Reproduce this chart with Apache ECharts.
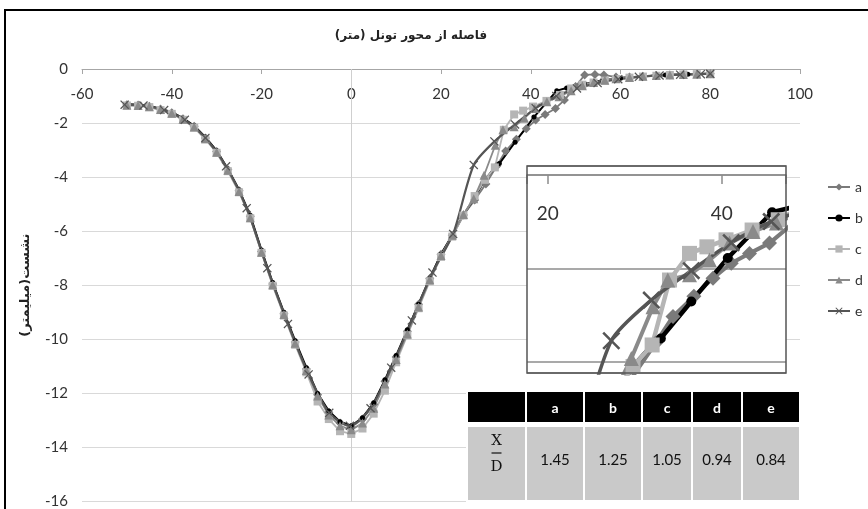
<!DOCTYPE html>
<html><head><meta charset="utf-8">
<script src="https://cdn.jsdelivr.net/npm/echarts@6/dist/echarts.min.js"></script>
<style>html,body{margin:0;padding:0;background:#fff}#c{width:868px;height:509px}</style>
</head><body><div id="c"></div>
<script>
// ---------- data ----------
const seriesNames = ['a', 'b', 'c', 'd', 'e'];
const chartTitle = 'فاصله از محور تونل (متر)\u200F';
const yAxisTitle = 'نشست(میلیمتر)\u200F';

const xA = [-50,-47.5,-45,-42.5,-40,-37.5,-35,-32.5,-30,-27.5,-25,-22.5,-20,-17.5,-15,-12.5,-10,-7.5,-5,-2.5,0,2.5,5,7.5,10,12.5,15,17.5,20,22.5,25,
  27.5,30,32.4,34.4,36.8,39,41.1,43.2,45.5,47.5,50,52,54.3,56.3,59,62,65,68,71,74,77,80];
const yA = [-1.32,-1.33,-1.38,-1.48,-1.62,-1.84,-2.12,-2.55,-3.05,-3.72,-4.5,-5.45,-6.75,-7.95,-9.05,-10.1,-11.1,-12.05,-12.7,-13.1,-13.25,-12.95,-12.4,-11.55,-10.65,-9.7,-8.7,-7.75,-6.85,-6.15,-5.4,
  -4.85,-4.25,-3.6,-3.03,-2.6,-2.21,-1.89,-1.68,-1.46,-1.15,-0.65,-0.22,-0.2,-0.22,-0.3,-0.3,-0.27,-0.24,-0.22,-0.2,-0.19,-0.18];

const xB = [-50,-47.5,-45,-42.5,-40,-37.5,-35,-32.5,-30,-27.5,-25,-22.5,-20,-17.5,-15,-12.5,-10,-7.5,-5,-2.5,0,2.5,5,7.5,10,12.5,15,17.5,20,22.5,25,
  27.5,29.8,32,33,36.5,40.7,45.8,48,52,56,60,65,70,75,80];
const yB = [-1.3,-1.32,-1.37,-1.47,-1.6,-1.82,-2.1,-2.52,-3.02,-3.7,-4.47,-5.42,-6.7,-7.9,-9.0,-10.05,-11.05,-12.0,-12.65,-13.05,-13.2,-12.9,-12.35,-11.5,-10.6,-9.65,-8.7,-7.75,-6.85,-6.15,-5.4,
  -4.75,-4.1,-3.64,-3.5,-2.71,-1.78,-0.8,-0.7,-0.55,-0.42,-0.34,-0.27,-0.22,-0.19,-0.17];

const xC = [-50,-47.5,-45,-42.5,-40,-37.5,-35,-32.5,-30,-27.5,-25,-22.5,-20,-17.5,-15,-12.5,-10,-7.5,-5,-2.5,0,2.5,5,7.5,10,12.5,15,17.5,20,22.5,25,
  27.5,29.8,32,34,36.3,38.3,40.5,43.5,46.5,49,51.5,54,56.5,59,62,65,68,71,74,77,80];
const yC = [-1.35,-1.36,-1.41,-1.52,-1.66,-1.88,-2.17,-2.6,-3.1,-3.78,-4.56,-5.52,-6.8,-8.02,-9.12,-10.2,-11.22,-12.3,-12.95,-13.4,-13.5,-13.3,-12.75,-11.9,-10.85,-9.85,-8.85,-7.85,-6.95,-6.2,-5.42,
  -4.7,-4.1,-3.64,-2.25,-1.68,-1.54,-1.39,-1.18,-0.96,-0.72,-0.58,-0.5,-0.43,-0.37,-0.32,-0.28,-0.25,-0.22,-0.2,-0.19,-0.18];

const xD = [-50,-47.5,-45,-42.5,-40,-37.5,-35,-32.5,-30,-27.5,-25,-22.5,-20,-17.5,-15,-12.5,-10,-7.5,-5,-2.5,0,2.5,5,7.5,10,12.5,15,17.5,20,22.5,25,
  27.3,29.6,32.1,33.8,36.3,38.6,40.9,43.6,46.3,49,51.5,54,56.5,59,62,65,68,71,74,77,80];
const yD = [-1.34,-1.35,-1.4,-1.5,-1.64,-1.86,-2.15,-2.58,-3.08,-3.75,-4.53,-5.5,-6.78,-7.98,-9.08,-10.15,-11.15,-12.1,-12.8,-13.2,-13.35,-13.1,-12.55,-11.65,-10.75,-9.8,-8.8,-7.8,-6.9,-6.15,-5.38,
  -4.8,-3.93,-2.82,-2.25,-2.14,-1.82,-1.46,-1.21,-1.03,-0.8,-0.62,-0.5,-0.42,-0.36,-0.31,-0.27,-0.24,-0.22,-0.2,-0.19,-0.18];

const xE = [-50.5,-46.3,-41.7,-37.1,-32.5,-27.9,-23.3,-18.7,-14.1,-9.5,-4.9,-0.3,4.3,8.9,13.5,18.1,22.7,27.3,31.9,36.5,41.1,45.7,50.3,54.9,59.5,64.1,68.7,73.3,77.9,80];
const yE = [-1.32,-1.35,-1.52,-1.88,-2.55,-3.6,-5.15,-7.37,-9.43,-11.3,-12.72,-13.2,-12.55,-11.05,-9.3,-7.53,-6.1,-3.55,-2.68,-2.05,-1.45,-1.0,-0.72,-0.52,-0.38,-0.29,-0.24,-0.21,-0.19,-0.18];

const tableHeader = ['a', 'b', 'c', 'd', 'e'];
const tableValues = ['1.45', '1.25', '1.05', '0.94', '0.84'];
const ratioTop = 'X', ratioBottom = 'D';

// ---------- styles ----------
const xs = [xA, xB, xC, xD, xE];
const ys = [yA, yB, yC, yD, yE];
const colors = ['#7a7a7a', '#000000', '#b5b5b5', '#8a8a8a', '#555555'];
const crossPath = 'path://M0,1L1,0L5,4L9,0L10,1L6,5L10,9L9,10L5,6L1,10L0,9L4,5Z';
const symbols = ['diamond', 'circle', 'rect', 'triangle', crossPath];
const mainSym = [9, 5, 8, 9, 9];
const insetSym = [15, 10, 15, 15, 18];
const mainLW = [1.8, 2, 1.8, 1.8, 2.2];
const insetLW = [4, 4.5, 4.5, 4, 3.5];
const FONT = 'Lato, "Open Sans", sans-serif';

const series = [];
seriesNames.forEach((n, i) => {
  const data = xs[i].map((x, k) => [x, ys[i][k]]);
  const s = {
    name: n, type: 'line', xAxisIndex: 0, yAxisIndex: 0, data,
    symbol: symbols[i], symbolSize: mainSym[i], showSymbol: true,
    smooth: i === 4 ? 0.25 : false,
    lineStyle: { color: colors[i], width: mainLW[i] },
    itemStyle: { color: colors[i] },
    z: 2, animation: false, emphasis: { disabled: true }
  };
  if (i === 0) {
    s.markLine = {
      silent: true, symbol: 'none', z: 1, animation: false,
      label: { show: false },
      lineStyle: { color: '#cfcfcf', width: 1, type: 'solid' },
      data: [{ xAxis: 0 }]
    };
  }
  series.push(s);
});
seriesNames.forEach((n, i) => {
  const data = xs[i].map((x, k) => [x, ys[i][k]]);
  series.push({
    name: n, type: 'line', xAxisIndex: 1, yAxisIndex: 1, data,
    symbol: symbols[i], symbolSize: insetSym[i], showSymbol: true,
    smooth: i === 4 ? 0.25 : false, clip: true,
    lineStyle: { color: colors[i], width: insetLW[i] },
    itemStyle: { color: colors[i] },
    z: 4, animation: false, emphasis: { disabled: true }
  });
});

// ---------- table graphic ----------
const cols = [[468, 57], [527, 56], [585, 56], [643, 48], [693, 48], [743, 56]];
const hdrY = 392, hdrH = 30, bodyY = 427, bodyH = 73;
const graphics = [
  { type: 'rect', shape: { x: 5, y: 10, width: 900, height: 600 }, style: { fill: 'none', stroke: '#000', lineWidth: 2 }, z: 100, silent: true },
  { type: 'rect', shape: { x: 527, y: 166, width: 259, height: 207 }, style: { fill: '#fff' }, z: 1, silent: true },
  { type: 'rect', shape: { x: 527, y: 166, width: 259, height: 207 }, style: { fill: 'none', stroke: '#555', lineWidth: 1.5 }, z: 8, silent: true },
  { type: 'text', x: 411, y: 36, style: { text: chartTitle, align: 'center', verticalAlign: 'middle', fontSize: 12, fontWeight: 'bold', fontFamily: 'DejaVu Sans', fill: '#222' }, z: 10 },
  { type: 'rect', shape: { x: 466, y: 390, width: 335, height: 112 }, style: { fill: '#fff' }, z: 10, silent: true }
];
cols.forEach(([cx, cw], i) => {
  graphics.push({ type: 'rect', shape: { x: cx, y: hdrY, width: cw, height: hdrH }, style: { fill: '#000' }, z: 11 });
  graphics.push({ type: 'rect', shape: { x: cx, y: bodyY, width: cw, height: bodyH }, style: { fill: '#c9c9c9' }, z: 11 });
  if (i > 0) {
    graphics.push({ type: 'text', x: cx + cw / 2, y: hdrY + hdrH / 2 + 1, style: { text: tableHeader[i - 1], align: 'center', verticalAlign: 'middle', fontSize: 14, fontWeight: 'bold', fontFamily: FONT, fill: '#fff' }, z: 12 });
    graphics.push({ type: 'text', x: cx + cw / 2, y: bodyY + 33, style: { text: tableValues[i - 1], align: 'center', verticalAlign: 'middle', fontSize: 15, fontFamily: FONT, fill: '#111' }, z: 12 });
  } else {
    const mx = cx + cw / 2;
    graphics.push({ type: 'text', x: mx, y: 441, style: { text: ratioTop, align: 'center', verticalAlign: 'middle', fontSize: 15, fontFamily: '"DejaVu Serif", serif', fill: '#111' }, z: 12 });
    graphics.push({ type: 'line', shape: { x1: mx - 5, y1: 453, x2: mx + 5, y2: 453 }, style: { stroke: '#111', lineWidth: 1.2 }, z: 12 });
    graphics.push({ type: 'text', x: mx, y: 467, style: { text: ratioBottom, align: 'center', verticalAlign: 'middle', fontSize: 15, fontFamily: '"DejaVu Serif", serif', fill: '#111' }, z: 12 });
  }
});

const chart = echarts.init(document.getElementById('c'), null, { renderer: 'canvas' });
chart.setOption({
  animation: false,
  backgroundColor: '#fff',
  grid: [
    { left: 82, top: 69, width: 718, height: 436, containLabel: false },
    { left: 527, top: 166, width: 259, height: 207, containLabel: false }
  ],
  xAxis: [
    { type: 'value', gridIndex: 0, position: 'top', min: -60, max: 100, interval: 20,
      axisLine: { show: true, onZero: false, lineStyle: { color: '#a6a6a6', width: 1 } },
      axisTick: { show: true, inside: true, length: 5, lineStyle: { color: '#a6a6a6' } },
      axisLabel: { inside: true, margin: 18, fontSize: 15, color: '#333', fontFamily: FONT },
      splitLine: { show: false } },
    { type: 'value', gridIndex: 1, position: 'top', min: 17.6, max: 47.4, minInterval: 20, maxInterval: 20, z: 3,
      axisLine: { show: true, onZero: true, lineStyle: { color: '#8c8c8c', width: 1.5 } },
      axisTick: { show: true, inside: true, length: 9, lineStyle: { color: '#8c8c8c', width: 1.5 } },
      axisLabel: { inside: true, margin: 38, fontSize: 19, color: '#333', fontFamily: FONT,
        formatter: v => (Math.abs(v % 20) < 1e-6 ? String(v) : '') },
      splitLine: { show: false } }
  ],
  yAxis: [
    { type: 'value', gridIndex: 0, min: -16, max: 0, interval: 2,
      name: yAxisTitle, nameLocation: 'middle', nameGap: 50,
      nameTextStyle: { fontSize: 13, fontWeight: 'bold', fontFamily: 'DejaVu Sans', color: '#222' },
      axisLine: { show: false }, axisTick: { show: false },
      axisLabel: { margin: 14, fontSize: 15, color: '#333', fontFamily: FONT },
      splitLine: { show: true, lineStyle: { color: '#d9d9d9', width: 1 } } },
    { type: 'value', gridIndex: 1, min: -4.24, max: 0.19, minInterval: 2, maxInterval: 2, z: 3,
      axisLine: { show: false }, axisTick: { show: false }, axisLabel: { show: false },
      splitLine: { show: true, lineStyle: { color: '#8c8c8c', width: 1.5 } } }
  ],
  legend: {
    orient: 'vertical', left: 827, top: 180, padding: 0, itemWidth: 22, itemHeight: 9, itemGap: 17,
    textStyle: { fontSize: 14, color: '#333', fontFamily: FONT },
    data: seriesNames, selectedMode: false
  },
  graphic: { elements: graphics },
  series
});
</script></body></html>
